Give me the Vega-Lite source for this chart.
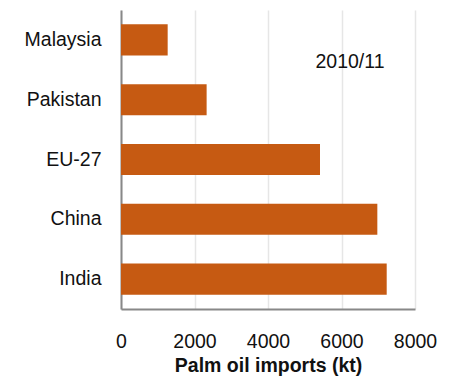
{
  "$schema": "https://vega.github.io/schema/vega-lite/v6.json",
  "width": 294,
  "height": 299,
  "autosize": {"type": "none"},
  "padding": {"left": 121, "top": 10, "right": 38, "bottom": 71},
  "background": "white",
  "config": {
    "view": {"stroke": null},
    "font": "Liberation Sans"
  },
  "data": {
    "values": [
      {"country": "Malaysia", "imports": 1270},
      {"country": "Pakistan", "imports": 2330},
      {"country": "EU-27", "imports": 5415},
      {"country": "China", "imports": 6975},
      {"country": "India", "imports": 7230}
    ]
  },
  "layer": [
    {
      "mark": {"type": "bar", "color": "#C65A12"},
      "encoding": {
        "y": {
          "field": "country",
          "type": "nominal",
          "sort": ["Malaysia", "Pakistan", "EU-27", "China", "India"],
          "scale": {"paddingInner": 0.48, "paddingOuter": 0.24},
          "axis": {
            "title": null,
            "ticks": false,
            "labelPadding": 20,
            "labelFontSize": 19.5,
            "labelColor": "#111111",
            "domainColor": "#888888",
            "domainWidth": 2,
            "grid": false
          }
        },
        "x": {
          "field": "imports",
          "type": "quantitative",
          "scale": {"domain": [0, 8000], "nice": false},
          "axis": {
            "title": "Palm oil imports (kt)",
            "titleFontSize": 19.5,
            "titleFontWeight": "bold",
            "titleColor": "#111111",
            "titlePadding": 6,
            "values": [0, 2000, 4000, 6000, 8000],
            "format": "d",
            "labelFlush": false,
            "labelOverlap": false,
            "ticks": false,
            "labelPadding": 23,
            "labelFontSize": 19.5,
            "labelColor": "#111111",
            "domainColor": "#888888",
            "domainWidth": 2,
            "grid": true,
            "gridColor": "#e6e6e6",
            "gridWidth": 1.5
          }
        }
      }
    },
    {
      "data": {"values": [{"label": "2010/11", "x": 6230, "country": "Malaysia"}]},
      "mark": {"type": "text", "fontSize": 19.5, "color": "#111111", "align": "center", "baseline": "middle", "dy": 22},
      "encoding": {
        "x": {"field": "x", "type": "quantitative"},
        "y": {"field": "country", "type": "nominal", "sort": ["Malaysia", "Pakistan", "EU-27", "China", "India"]},
        "text": {"field": "label"}
      }
    }
  ]
}
